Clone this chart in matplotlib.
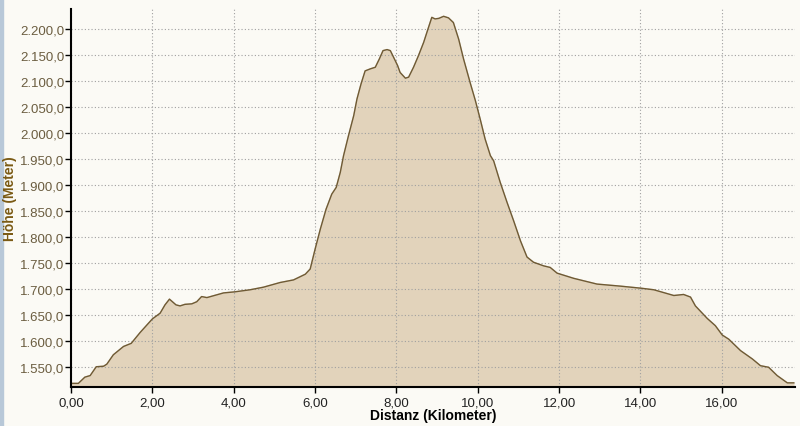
import matplotlib.pyplot as plt
from matplotlib.patches import Rectangle
from matplotlib.ticker import FuncFormatter, MultipleLocator

# elevation profile
dist_km = [0.00, 0.18, 0.34, 0.47, 0.62, 0.80, 0.88, 1.04, 1.29, 1.48, 1.70, 2.00,
           2.19, 2.31, 2.42, 2.58, 2.68, 2.80, 2.97, 3.09, 3.21, 3.34, 3.75, 4.02,
           4.40, 4.73, 5.14, 5.47, 5.76, 5.88, 6.00, 6.13, 6.27, 6.41, 6.52, 6.62,
           6.70, 6.82, 6.95, 7.03, 7.13, 7.23, 7.36, 7.48, 7.58, 7.67, 7.77, 7.85,
           7.95, 8.03, 8.09, 8.22, 8.30, 8.42, 8.54, 8.67, 8.79, 8.87, 8.95, 9.04,
           9.16, 9.28, 9.40, 9.53, 9.65, 9.81, 9.94, 10.06, 10.18, 10.31, 10.39,
           10.55, 10.72, 10.88, 11.05, 11.21, 11.37, 11.62, 11.78, 11.95, 12.36,
           12.93, 13.51, 14.02, 14.33, 14.82, 15.06, 15.23, 15.35, 15.64, 15.84,
           16.01, 16.17, 16.46, 16.75, 16.95, 17.15, 17.36, 17.61, 17.77]
elev_m = [1519, 1519, 1531, 1534, 1551, 1552, 1556, 1574, 1590, 1596, 1617, 1643,
          1654, 1670, 1681, 1670, 1668, 1671, 1672, 1676, 1686, 1684, 1693, 1695,
          1699, 1704, 1713, 1718, 1729, 1739, 1777, 1816, 1854, 1883, 1896, 1925,
          1957, 1995, 2034, 2066, 2095, 2120, 2124, 2127, 2143, 2159, 2161, 2159,
          2143, 2130, 2117, 2106, 2108, 2127, 2149, 2175, 2204, 2223, 2220, 2221,
          2225, 2222, 2213, 2181, 2143, 2098, 2063, 2027, 1989, 1957, 1947,
          1906, 1867, 1832, 1793, 1762, 1752, 1745, 1742, 1731, 1721,
          1710, 1706, 1702, 1699, 1688, 1690, 1685, 1668, 1644, 1630,
          1612, 1604, 1582, 1566, 1553, 1550, 1534, 1520, 1520]

def de_fmt(v, decimals):
    s = f"{v:,.{decimals}f}"
    return s.replace(",", "X").replace(".", ",").replace("X", ".")

plt.rcParams['font.family'] = ['Liberation Sans', 'DejaVu Sans']

fig = plt.figure(figsize=(8, 4.27), dpi=100, facecolor="#fbfaf5")
fig.patches.append(Rectangle((0, 0), 0.004, 1, transform=fig.transFigure,
                             color="#b8c8d8", zorder=0))
ax = fig.add_axes([0.0888, 0.0925, 0.905, 0.884])
ax.set_facecolor("#fbfaf5")

ax.fill_between(dist_km, elev_m, 1400, color="#e2d3bb", zorder=2)
ax.plot(dist_km, elev_m, color="#6e5a35", lw=1.0, zorder=3)

ax.set_xlim(0, 17.8)
ax.set_ylim(1513, 2239)
ax.xaxis.set_major_locator(MultipleLocator(2))
ax.yaxis.set_major_locator(MultipleLocator(50))
ax.xaxis.set_major_formatter(FuncFormatter(lambda v, p: de_fmt(v, 2)))
ax.yaxis.set_major_formatter(FuncFormatter(lambda v, p: de_fmt(v, 1)))

ax.grid(True, linestyle=(0, (1, 2)), color="#a0a0a0", lw=0.8, zorder=1)
ax.set_axisbelow(False)
for s in ["top", "right"]:
    ax.spines[s].set_visible(False)
for s in ["left", "bottom"]:
    ax.spines[s].set_linewidth(1.5)
    ax.spines[s].set_color("black")
    ax.spines[s].set_zorder(4)

ax.tick_params(axis="y", length=4, width=1, labelsize=9.5, labelcolor="#6b5d40", pad=1)
ax.tick_params(axis="x", length=4, width=1, labelsize=9.5, labelcolor="#222222", pad=3)

ax.set_xlabel("Distanz (Kilometer)", fontsize=10, fontweight="bold", labelpad=0)
fig.text(0.012, 0.535, "Höhe (Meter)", rotation=90, ha="center", va="center",
         fontsize=10, fontweight="bold", color="#7a5a14")

fig.savefig("out.png", dpi=100, facecolor=fig.get_facecolor())
